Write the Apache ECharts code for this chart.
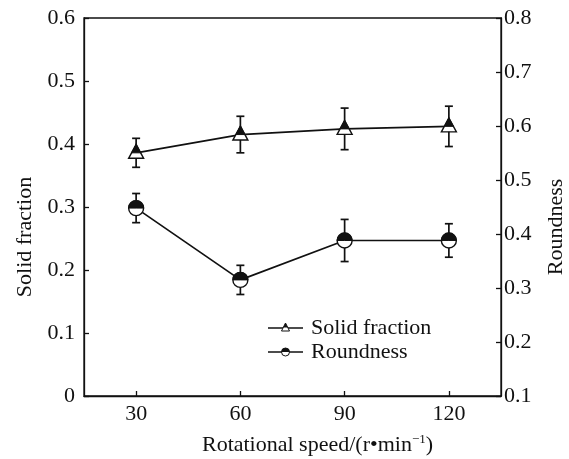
<!DOCTYPE html>
<html><head><meta charset="utf-8">
<script src="https://cdn.jsdelivr.net/npm/echarts@6/dist/echarts.min.js"></script>
<style>html,body{margin:0;padding:0;background:#fff}#c{width:569px;height:459px}</style>
</head><body><div id="c"></div>
<script>
const categories = ['30', '60', '90', '120'];
const solidFraction = [0.386, 0.415, 0.424, 0.428];
const solidErr = [0.023, 0.029, 0.033, 0.032];
const roundness = [0.448, 0.315, 0.388, 0.388];
const roundErr = [0.027, 0.027, 0.039, 0.031];
const leftTicks = [0, 0.6, 0.1];
const rightTicks = [0.1, 0.8, 0.1];

const FONT = '"Liberation Serif","Times New Roman",serif';
const FS = 22;
const INK = '#111';

function renderFor(kind) {
  return function (params, api) {
    const xi = api.value(0), y = api.value(1), e = api.value(2);
    const p = api.coord([xi, y]);
    const t = api.coord([xi, y + e]);
    const b = api.coord([xi, y - e]);
    const ls = { stroke: INK, lineWidth: 1.7 };
    const ch = [
      { type: 'line', shape: { x1: p[0], y1: t[1], x2: p[0], y2: b[1] }, style: ls },
      { type: 'line', shape: { x1: p[0] - 4, y1: t[1], x2: p[0] + 4, y2: t[1] }, style: ls },
      { type: 'line', shape: { x1: p[0] - 4, y1: b[1], x2: p[0] + 4, y2: b[1] }, style: ls }
    ];
    if (kind === 'tri') {
      const h1 = 8.5, h2 = 5.5, w = 7.5;
      const wm = w * h1 / (h1 + h2);
      ch.push({ type: 'polygon', shape: { points: [[p[0], p[1] - h1], [p[0] - w, p[1] + h2], [p[0] + w, p[1] + h2]] }, style: { fill: '#fff', stroke: INK, lineWidth: 1.4 } });
      ch.push({ type: 'polygon', shape: { points: [[p[0], p[1] - h1], [p[0] - wm, p[1]], [p[0] + wm, p[1]]] }, style: { fill: INK, stroke: INK, lineWidth: 1 } });
    } else {
      ch.push({ type: 'circle', shape: { cx: p[0], cy: p[1], r: 7.5 }, style: { fill: '#fff', stroke: INK, lineWidth: 1.4 } });
      ch.push({ type: 'sector', shape: { cx: p[0], cy: p[1], r: 7.5, r0: 0, startAngle: Math.PI, endAngle: 2 * Math.PI }, style: { fill: INK, stroke: INK, lineWidth: 1 } });
    }
    return { type: 'group', children: ch };
  };
}

function legendItems() {
  const items = [];
  const rows = [{ y: 328, kind: 'tri', text: 'Solid fraction' }, { y: 352, kind: 'circ', text: 'Roundness' }];
  rows.forEach(r => {
    items.push({ type: 'line', shape: { x1: 268, y1: r.y, x2: 303, y2: r.y }, style: { stroke: INK, lineWidth: 1.5 } });
    if (r.kind === 'tri') {
      items.push({ type: 'polygon', shape: { points: [[285.5, r.y - 5], [281.5, r.y + 3], [289.5, r.y + 3]] }, style: { fill: '#fff', stroke: INK, lineWidth: 1 } });
      items.push({ type: 'polygon', shape: { points: [[285.5, r.y - 5], [283.2, r.y - 0.5], [287.8, r.y - 0.5]] }, style: { fill: INK } });
    } else {
      items.push({ type: 'circle', shape: { cx: 285.5, cy: r.y, r: 4 }, style: { fill: '#fff', stroke: INK, lineWidth: 1 } });
      items.push({ type: 'sector', shape: { cx: 285.5, cy: r.y, r: 4, r0: 0, startAngle: Math.PI, endAngle: 2 * Math.PI }, style: { fill: INK } });
    }
    items.push({ type: 'text', x: 311, y: r.y, style: { text: r.text, font: FS + 'px ' + FONT, fill: INK, verticalAlign: 'middle', align: 'left' } });
  });
  return items;
}

const axisCommon = {
  axisLine: { show: true, lineStyle: { color: INK, width: 1.3 } },
  axisTick: { show: true, inside: true, length: 5, lineStyle: { color: INK, width: 1.3 } },
  splitLine: { show: false }
};

const chart = echarts.init(document.getElementById('c'));
chart.setOption({
  animation: false,
  backgroundColor: '#fff',
  grid: { left: 84, right: 68, top: 18, bottom: 63, containLabel: false, outerBoundsMode: 'none',
          show: true, borderColor: INK, borderWidth: 1.3 },
  xAxis: Object.assign({}, axisCommon, {
    type: 'category', data: categories, boundaryGap: true,
    axisTick: { show: true, inside: true, length: 5, alignWithLabel: true, lineStyle: { color: INK, width: 1.3 } },
    axisLabel: { fontFamily: FONT, fontSize: FS, color: INK, margin: 7 },
    name: 'Rotational speed/(r•min{sup|−1})',
    nameLocation: 'middle', nameGap: 37,
    nameTextStyle: { fontFamily: FONT, fontSize: FS, color: INK, padding: [0, 0, 0, 50],
      rich: { sup: { fontFamily: FONT, fontSize: 13, color: INK, verticalAlign: 'top', padding: [0, 0, 11, 0] } } }
  }),
  yAxis: [
    Object.assign({}, axisCommon, {
      type: 'value', min: leftTicks[0], max: leftTicks[1], interval: leftTicks[2], position: 'left',
      axisLabel: { fontFamily: FONT, fontSize: FS, color: INK, margin: 9, formatter: v => v === 0 ? '0' : v.toFixed(1) },
      name: 'Solid fraction', nameLocation: 'middle', nameGap: 46, nameRotate: 90,
      nameTextStyle: { fontFamily: FONT, fontSize: FS, color: INK, padding: [0, 60, 0, 0] }
    }),
    Object.assign({}, axisCommon, {
      type: 'value', min: rightTicks[0], max: rightTicks[1], interval: rightTicks[2], position: 'right',
      axisLabel: { fontFamily: FONT, fontSize: FS, color: INK, margin: 3, formatter: v => v.toFixed(1) },
      name: 'Roundness', nameLocation: 'middle', nameGap: 44, nameRotate: 90,
      nameTextStyle: { fontFamily: FONT, fontSize: FS, color: INK, padding: [0, 40, 0, 0] }
    })
  ],
  graphic: legendItems(),
  series: [
    { type: 'line', name: 'Solid fraction', data: solidFraction, yAxisIndex: 0, symbol: 'none', lineStyle: { color: INK, width: 1.7 }, z: 2 },
    { type: 'line', name: 'Roundness', data: roundness, yAxisIndex: 1, symbol: 'none', lineStyle: { color: INK, width: 1.7 }, z: 2 },
    { type: 'custom', yAxisIndex: 0, renderItem: renderFor('tri'), z: 3,
      data: solidFraction.map((v, i) => [i, v, solidErr[i]]), encode: { x: 0, y: 1 } },
    { type: 'custom', yAxisIndex: 1, renderItem: renderFor('circ'), z: 3,
      data: roundness.map((v, i) => [i, v, roundErr[i]]), encode: { x: 0, y: 1 } }
  ]
});
</script></body></html>
